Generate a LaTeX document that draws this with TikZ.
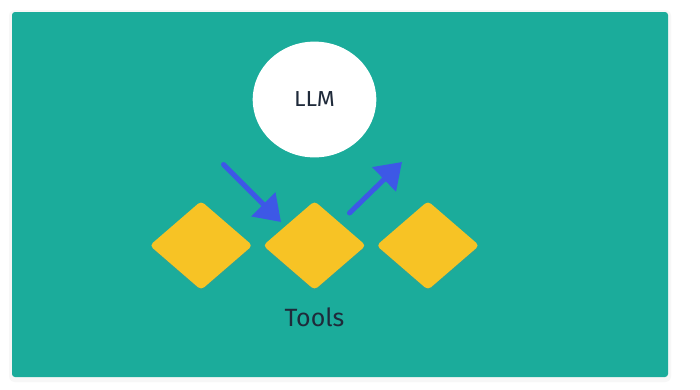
\documentclass[tikz,border=0pt]{standalone}
\usepackage{fontspec}
\setmainfont{Fira Sans}
\usetikzlibrary{shapes.geometric,arrows.meta,positioning,shadows}
\definecolor{cardteal}{HTML}{1BAC9B}
\definecolor{tooly}{HTML}{F7C325}
\definecolor{arrowblue}{HTML}{3D58E6}
\definecolor{inkdark}{HTML}{1F2A3A}

\tikzset{
  tool/.style={draw=none, fill=tooly, diamond, rounded corners=4pt, inner sep=0pt, minimum width=103pt, minimum height=89pt,
    drop shadow={shadow xshift=0pt, shadow yshift=-2pt, opacity=0.12}},
  flow/.style={arrowblue, line width=5pt, line cap=round, -{Triangle[length=25pt,width=33pt]}}
}

\begin{document}
\begin{tikzpicture}[x=1pt,y=-1pt]
\useasboundingbox[fill=white] (0,0) rectangle (700,389);
% card with a soft shadow
\fill[black!3, rounded corners=6pt] (9,10) rectangle (671,382);
\fill[black!3, rounded corners=5pt] (10,11) rectangle (670,380);
\fill[cardteal, rounded corners=3pt] (12,12) rectangle (668,377);

\node[circle, fill=white, minimum size=120pt, inner sep=0pt, font=\fontsize{22.5}{27}\selectfont, text=inkdark, xscale=1.03, yscale=0.965] (llm) at (314.5,99.5) {LLM};

\node[tool] (t2) at (314.5,245.5) {};
\node[tool, left=10pt of t2] (t1) {};
\node[tool, right=10pt of t2] (t3) {};

\node[font=\fontsize{25}{30}\selectfont, text=inkdark, below=14pt of t2] (label) {Tools};

\coordinate (in) at (223.5,164.5);
\coordinate (call) at (281,222);
\coordinate (back) at (349.5,213);
\coordinate (out) at (402,162);

\draw[flow] (in) -- (call);
\draw[flow] (back) -- (out);

\end{tikzpicture}
\end{document}
